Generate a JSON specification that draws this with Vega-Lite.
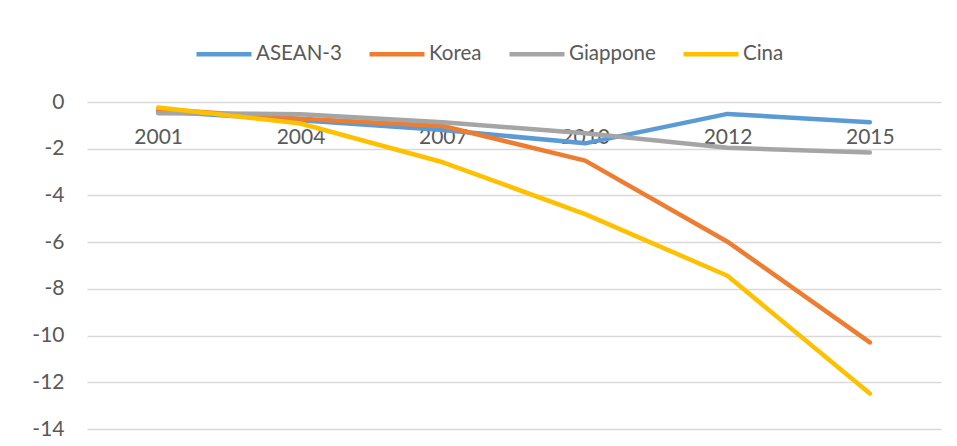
{
  "$schema": "https://vega.github.io/schema/vega-lite/v6.json",
  "width": 854,
  "height": 327,
  "autosize": {"type": "none"},
  "padding": {"left": 87, "top": 102, "right": 16, "bottom": 17},
  "background": "#ffffff",
  "config": {
    "view": {"stroke": null},
    "font": "Lato",
    "axis": {"labelFont": "Lato", "labelColor": "#595959", "labelFontSize": 21},
    "legend": {"labelFont": "Lato", "labelColor": "#595959", "labelFontSize": 20.5}
  },
  "data": {
    "values": [
      {"paese": "ASEAN-3", "anno": "2001", "valore": -0.4},
      {"paese": "ASEAN-3", "anno": "2004", "valore": -0.78},
      {"paese": "ASEAN-3", "anno": "2007", "valore": -1.2},
      {"paese": "ASEAN-3", "anno": "2010", "valore": -1.77},
      {"paese": "ASEAN-3", "anno": "2012", "valore": -0.51},
      {"paese": "ASEAN-3", "anno": "2015", "valore": -0.87},
      {"paese": "Korea", "anno": "2001", "valore": -0.3},
      {"paese": "Korea", "anno": "2004", "valore": -0.72},
      {"paese": "Korea", "anno": "2007", "valore": -1.03},
      {"paese": "Korea", "anno": "2010", "valore": -2.51},
      {"paese": "Korea", "anno": "2012", "valore": -5.98},
      {"paese": "Korea", "anno": "2015", "valore": -10.29},
      {"paese": "Giappone", "anno": "2001", "valore": -0.48},
      {"paese": "Giappone", "anno": "2004", "valore": -0.52},
      {"paese": "Giappone", "anno": "2007", "valore": -0.87},
      {"paese": "Giappone", "anno": "2010", "valore": -1.34},
      {"paese": "Giappone", "anno": "2012", "valore": -1.96},
      {"paese": "Giappone", "anno": "2015", "valore": -2.16},
      {"paese": "Cina", "anno": "2001", "valore": -0.24},
      {"paese": "Cina", "anno": "2004", "valore": -0.92},
      {"paese": "Cina", "anno": "2007", "valore": -2.58},
      {"paese": "Cina", "anno": "2010", "valore": -4.8},
      {"paese": "Cina", "anno": "2012", "valore": -7.44},
      {"paese": "Cina", "anno": "2015", "valore": -12.48}
    ]
  },
  "mark": {"type": "line", "strokeWidth": 4.5, "strokeCap": "round", "strokeJoin": "round"},
  "encoding": {
    "x": {
      "field": "anno",
      "type": "ordinal",
      "sort": null,
      "scale": {"type": "point", "padding": 0.5},
      "axis": {
        "title": null,
        "orient": "bottom",
        "offset": -327,
        "domain": false,
        "ticks": false,
        "grid": false,
        "labelAngle": 0,
        "labelPadding": 24
      }
    },
    "y": {
      "field": "valore",
      "type": "quantitative",
      "scale": {"domain": [-14, 0], "nice": false, "zero": false},
      "axis": {
        "title": null,
        "values": [0, -2, -4, -6, -8, -10, -12, -14],
        "labelExpr": "datum.value < 0 ? '-' + abs(datum.value) : '' + datum.value",
        "domain": false,
        "ticks": false,
        "grid": true,
        "gridColor": "#d9d9d9",
        "gridWidth": 1.3,
        "labelPadding": 23
      }
    },
    "color": {
      "field": "paese",
      "type": "nominal",
      "sort": null,
      "scale": {
        "domain": ["ASEAN-3", "Korea", "Giappone", "Cina"],
        "range": ["#5b9bd5", "#ed7d31", "#a5a5a5", "#ffc000"]
      },
      "legend": {
        "title": null,
        "orient": "none",
        "direction": "horizontal",
        "legendX": 107,
        "legendY": -78,
        "padding": 0,
        "symbolType": "stroke",
        "symbolSize": 3025,
        "symbolStrokeWidth": 4.5,
        "labelOffset": 2,
        "columnPadding": 18
      }
    }
  }
}
